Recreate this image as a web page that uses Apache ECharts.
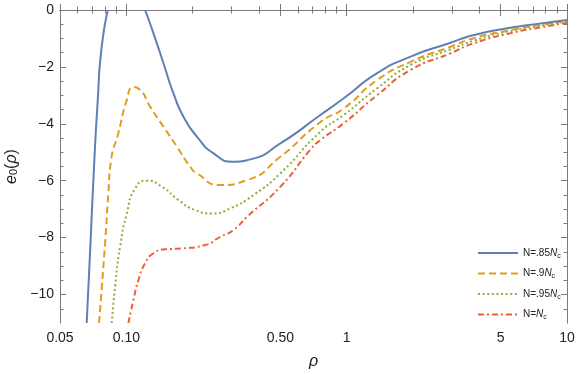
<!DOCTYPE html>
<html>
<head>
<meta charset="utf-8">
<script src="https://cdn.jsdelivr.net/npm/echarts@6/dist/echarts.min.js"></script>
<style>
html, body { margin: 0; padding: 0; background: #fff; }
#main { width: 577px; height: 374px; }
</style>
</head>
<body>
<div id="main"></div>
<script>
// curves (rho, e0)
var rho85 = [0.0661, 0.0687, 0.0716, 0.0742, 0.0770, 0.0824, 0.1, 0.1217, 0.1328, 0.1474, 0.1636, 0.1817, 0.2091, 0.2488, 0.3068, 0.3653, 0.5, 0.76, 0.97, 1.376, 1.95, 2.963, 3.78, 5.36, 7.6, 10];
var e85 = [-11, -8.26, -5.27, -3.16, -1.41, 0, null, 0, -0.82, -1.87, -2.93, -3.75, -4.45, -5.04, -5.33, -5.25, -4.69, -3.69, -3.10, -2.22, -1.64, -1.15, -0.88, -0.64, -0.47, -0.35];

var rho90 = [0.0752, 0.0774, 0.0801, 0.0829, 0.0853, 0.092, 0.1005, 0.1074, 0.1155, 0.1283, 0.1474, 0.1696, 0.195, 0.2091, 0.2669, 0.3529, 0.5, 0.76, 0.97, 1.376, 1.95, 2.963, 3.78, 5.36, 7.6, 10];
var e90 = [-11, -9.73, -8.2, -6.44, -5.27, -4.33, -3.16, -2.71, -2.81, -3.40, -4.10, -4.80, -5.51, -5.74, -6.15, -5.98, -5.16, -3.94, -3.46, -2.46, -1.82, -1.29, -0.99, -0.73, -0.52, -0.39];

var rho95 = [0.0859, 0.0889, 0.0937, 0.1005, 0.1097, 0.1239, 0.145, 0.1725, 0.2054, 0.2447, 0.2963, 0.3781, 0.5, 0.76, 0.97, 1.376, 1.95, 2.963, 3.78, 5.36, 7.6, 10];
var e95 = [-11, -9.73, -8.32, -7.15, -6.27, -6.00, -6.21, -6.68, -7.03, -7.15, -6.97, -6.50, -5.74, -4.28, -3.69, -2.75, -1.93, -1.38, -1.08, -0.76, -0.55, -0.41];

var rho100 = [0.1022, 0.1077, 0.1135, 0.1217, 0.1328, 0.15, 0.1787, 0.228, 0.2669, 0.3068, 0.3529, 0.5, 0.686, 0.76, 0.97, 1.376, 1.95, 2.963, 3.78, 5.36, 7.6, 10];
var e100 = [-11, -10.19, -9.49, -8.90, -8.55, -8.41, -8.38, -8.26, -7.97, -7.73, -7.27, -6.21, -4.90, -4.57, -3.98, -2.99, -2.11, -1.52, -1.17, -0.84, -0.61, -0.45];

var seriesNames = ['N=.85Nc', 'N=.9Nc', 'N=.95Nc', 'N=Nc'];
var legendText = {
    'N=.85Nc': '{t|N=.85}{i|N}{s|c}',
    'N=.9Nc': '{t|N=.9}{i|N}{s|c}',
    'N=.95Nc': '{t|N=.95}{i|N}{s|c}',
    'N=Nc': '{t|N=}{i|N}{s|c}'
};

var xMajor = [0.05, 0.1, 0.5, 1, 5, 10];
var xMinor = [0.06, 0.07, 0.08, 0.09, 0.2, 0.3, 0.4, 0.6, 0.7, 0.8, 0.9, 2, 3, 4, 6, 7, 8, 9];
var yMajor = [-10, -8, -6, -4, -2, 0];
var yMinor = [-10.5, -9.5, -9, -8.5, -7.5, -7, -6.5, -5.5, -5, -4.5, -3.5, -3, -2.5, -1.5, -1, -0.5];

var colors = ['#5E81B5', '#E19C24', '#8FB032', '#EB6235'];
var dashes = ['solid', [7, 4], [2, 2.6], [6, 3, 2, 3]];

function pairs(xs, ys) {
    return xs.map(function (x, i) { return [x, ys[i]]; });
}

var frameColor = '#7a7a7a';
var labelColor = '#222';

function xAxisOf(position, ticks, len, withLabels) {
    return {
        type: 'log',
        logBase: 10,
        min: 0.05,
        max: 10,
        position: position,
        axisLine: { show: withLabels || position == 'top', lineStyle: { color: frameColor, width: 1 } },
        axisTick: { show: true, inside: true, length: len, customValues: ticks, lineStyle: { color: frameColor } },
        axisLabel: {
            show: withLabels,
            customValues: withLabels ? xMajor : undefined,
            margin: 8,
            fontSize: 14,
            fontFamily: 'Liberation Sans',
            color: labelColor,
            formatter: function (v) { return v < 1 ? v.toFixed(2) : String(v); }
        },
        splitLine: { show: false },
        minorTick: { show: false },
        name: withLabels ? 'ρ' : '',
        nameLocation: 'middle',
        nameGap: 31,
        nameTextStyle: { fontSize: 16, fontStyle: 'italic', fontFamily: 'Liberation Sans', color: labelColor }
    };
}

function yAxisOf(position, ticks, len, withLabels) {
    return {
        type: 'value',
        min: -11,
        max: 0,
        position: position,
        axisLine: { show: withLabels || position == 'right', lineStyle: { color: frameColor, width: 1 } },
        axisTick: { show: true, inside: true, length: len, customValues: ticks, lineStyle: { color: frameColor } },
        axisLabel: {
            show: withLabels,
            customValues: withLabels ? yMajor : undefined,
            margin: 6,
            fontSize: 14,
            fontFamily: 'Liberation Sans',
            color: labelColor,
            formatter: function (v) { return v < 0 ? '\u2212' + Math.abs(v) : String(v); }
        },
        splitLine: { show: false },
        name: withLabels ? '{i|e}{s|0}({i|ρ})' : '',
        nameLocation: 'middle',
        nameRotate: 90,
        nameGap: 36,
        nameTextStyle: {
            fontSize: 16,
            fontFamily: 'Liberation Sans',
            color: labelColor,
            rich: {
                i: { fontSize: 16, fontStyle: 'italic', fontFamily: 'Liberation Sans', color: labelColor },
                s: { fontSize: 11, fontFamily: 'Liberation Sans', color: labelColor, verticalAlign: 'bottom', lineHeight: 14 }
            }
        }
    };
}

var series = [pairs(rho85, e85), pairs(rho90, e90), pairs(rho95, e95), pairs(rho100, e100)].map(function (d, i) {
    return {
        name: seriesNames[i],
        type: 'line',
        data: d,
        xAxisIndex: 0,
        yAxisIndex: 0,
        showSymbol: false,
        symbol: 'none',
        smooth: 0.6,
        clip: true,
        connectNulls: false,
        lineStyle: { color: colors[i], width: 2, type: dashes[i] },
        itemStyle: { color: colors[i] },
        z: 10 - i
    };
});

var myChart = echarts.init(document.getElementById('main'));
var option = {
    animation: false,
    backgroundColor: '#fff',
    grid: { left: 60, right: 10, top: 10, bottom: 51, containLabel: false, outerBoundsMode: 'none' },
    xAxis: [
        xAxisOf('bottom', xMajor, 6, true),
        xAxisOf('bottom', xMinor, 3.5, false),
        xAxisOf('top', xMajor, 6, false),
        xAxisOf('top', xMinor, 3.5, false)
    ],
    yAxis: [
        yAxisOf('left', yMajor, 6, true),
        yAxisOf('left', yMinor, 3.5, false),
        yAxisOf('right', yMajor, 6, false),
        yAxisOf('right', yMinor, 3.5, false)
    ],
    legend: {
        data: seriesNames,
        orient: 'vertical',
        left: 472,
        top: 243,
        itemWidth: 40,
        itemHeight: 10,
        itemGap: 9,
        itemStyle: { opacity: 0 },
        formatter: function (name) { return legendText[name]; },
        textStyle: {
            fontSize: 10,
            color: labelColor,
            rich: {
                t: { fontSize: 10, fontFamily: 'Liberation Sans', color: labelColor, lineHeight: 13 },
                i: { fontSize: 10, fontStyle: 'italic', fontFamily: 'Liberation Sans', color: labelColor, lineHeight: 13 },
                s: { fontSize: 7, fontFamily: 'Liberation Sans', color: labelColor, verticalAlign: 'bottom', lineHeight: 13 }
            }
        }
    },
    series: series
};
myChart.setOption(option);
</script>
</body>
</html>
